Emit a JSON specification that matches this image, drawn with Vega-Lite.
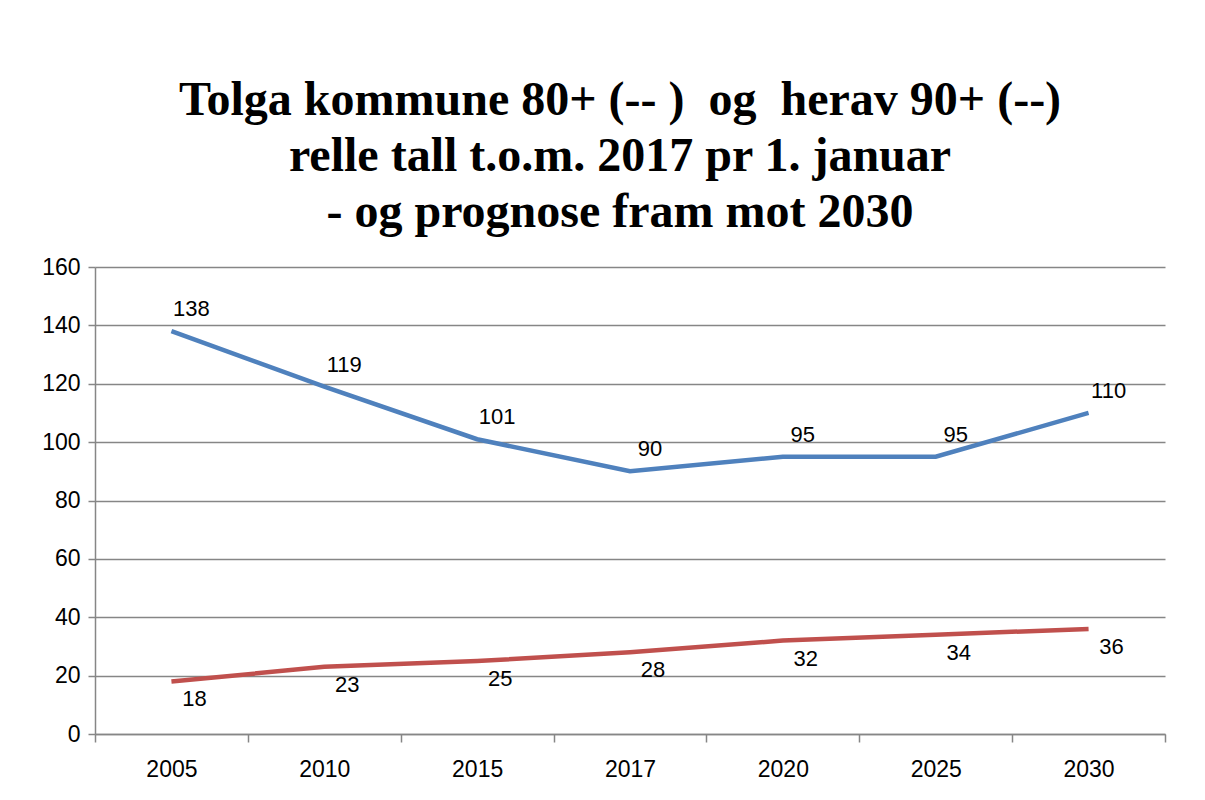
{
  "$schema": "https://vega.github.io/schema/vega-lite/v6.json",
  "autosize": "none",
  "width": 1070,
  "height": 467,
  "padding": {"left": 95, "top": 267, "right": 40, "bottom": 66},
  "background": "white",
  "title": {
    "text": ["Tolga kommune 80+ (-- )\u00a0 og\u00a0 herav 90+ (--)", "relle tall t.o.m. 2017 pr 1. januar", "- og prognose fram mot 2030"],
    "font": "Liberation Serif",
    "fontWeight": "bold",
    "fontSize": 48,
    "lineHeight": 56,
    "color": "black",
    "anchor": "middle",
    "dx": -10,
    "offset": 19
  },
  "data": {
    "values": [
      {"year": "2005", "series": "80+", "value": 138},
      {"year": "2010", "series": "80+", "value": 119},
      {"year": "2015", "series": "80+", "value": 101},
      {"year": "2017", "series": "80+", "value": 90},
      {"year": "2020", "series": "80+", "value": 95},
      {"year": "2025", "series": "80+", "value": 95},
      {"year": "2030", "series": "80+", "value": 110},
      {"year": "2005", "series": "90+", "value": 18},
      {"year": "2010", "series": "90+", "value": 23},
      {"year": "2015", "series": "90+", "value": 25},
      {"year": "2017", "series": "90+", "value": 28},
      {"year": "2020", "series": "90+", "value": 32},
      {"year": "2025", "series": "90+", "value": 34},
      {"year": "2030", "series": "90+", "value": 36}
    ]
  },
  "encoding": {
    "x": {
      "field": "year",
      "type": "ordinal",
      "scale": {"type": "band", "paddingInner": 0, "paddingOuter": 0},
      "axis": {
        "title": null,
        "labelAngle": 0,
        "tickBand": "extent",
        "labelFont": "Liberation Sans",
        "labelFontSize": 23,
        "labelColor": "black",
        "labelPadding": 16,
        "tickSize": 8,
        "tickColor": "#868686",
        "domainColor": "#868686",
        "tickWidth": 1.5,
        "domainWidth": 1.5,
        "grid": false
      }
    },
    "y": {
      "field": "value",
      "type": "quantitative",
      "scale": {"domain": [0, 160], "nice": false},
      "axis": {
        "title": null,
        "values": [0, 20, 40, 60, 80, 100, 120, 140, 160],
        "labelFont": "Liberation Sans",
        "labelFontSize": 23,
        "labelColor": "black",
        "labelPadding": 8,
        "tickSize": 7,
        "tickColor": "#868686",
        "domainColor": "#868686",
        "gridColor": "#868686",
        "tickWidth": 1.5,
        "domainWidth": 1.5,
        "gridWidth": 1.5
      }
    }
  },
  "layer": [
    {
      "mark": {"type": "line", "strokeWidth": 4.5},
      "encoding": {
        "color": {
          "field": "series",
          "type": "nominal",
          "scale": {"domain": ["80+", "90+"], "range": ["#4F81BD", "#C0504D"]},
          "legend": null
        }
      }
    },
    {
      "transform": [{"filter": "datum.series === '80+'"}],
      "mark": {"type": "text", "font": "Liberation Sans", "fontSize": 22, "color": "black", "dx": 20, "dy": -22},
      "encoding": {"text": {"field": "value", "type": "quantitative"}}
    },
    {
      "transform": [{"filter": "datum.series === '90+'"}],
      "mark": {"type": "text", "font": "Liberation Sans", "fontSize": 22, "color": "black", "dx": 23, "dy": 18},
      "encoding": {"text": {"field": "value", "type": "quantitative"}}
    }
  ],
  "config": {"view": {"stroke": null}}
}
